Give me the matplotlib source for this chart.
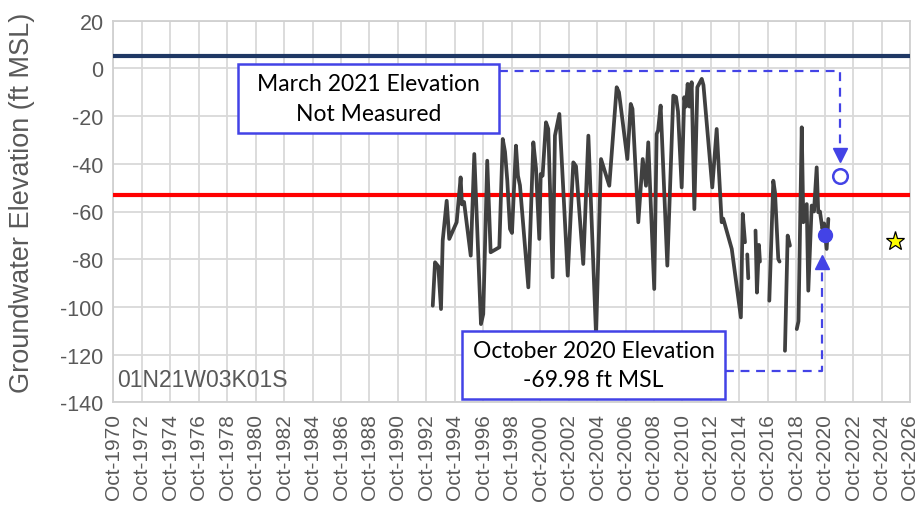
import numpy as np
import matplotlib
matplotlib.use("Agg")
import matplotlib.pyplot as plt
from matplotlib.patches import Rectangle

# ---------------- data ----------------
nan = np.nan
years = [1993.20, 1993.36, 1993.59, 1993.78, 1993.90, 1994.18, 1994.36, 1994.88,
         1995.16, 1995.25, 1995.40, 1995.87, 1996.12, 1996.59, 1996.75, 1997.03,
         1997.27, 1997.88, 1998.12, 1998.28, 1998.44, 1998.63, 1998.77, 1999.05,
         1999.19, 1999.33, 1999.92, 2000.27, 2000.46, 2000.69, 2000.79, 2000.92,
         2001.16, 2001.32, 2001.63, 2001.79, 2002.10, 2002.69, 2003.08, 2003.27,
         2003.78, 2004.14, 2004.68, 2005.03, 2005.61, 2006.13, 2006.29, 2006.88,
         2007.12, 2007.24, 2007.65, 2007.96, 2008.19, 2008.35, 2008.77, 2008.94,
         2009.04, 2009.22, 2009.69, 2010.11, 2010.30, 2010.44, 2010.70, 2010.88,
         2011.00, 2011.12, 2011.25, 2011.40, 2011.59, 2011.80, 2012.11, 2012.23,
         2012.85, 2013.16, 2013.51, 2013.62, 2014.22, 2014.86, 2014.99, 2015.15,
         nan, 2015.31, 2015.38,
         nan, 2015.89, 2015.99, 2016.13, 2016.20,
         nan, 2016.86, 2017.14, 2017.26, 2017.49, 2017.58,
         nan, 2017.96, 2018.15, 2018.31,
         nan, 2018.79, 2018.91, 2019.14, 2019.25, 2019.49, 2019.60, 2019.84,
         2020.00, 2020.19, 2020.30, 2020.42, 2020.59, 2020.71, 2020.89, 2021.01]
elev = [-99.5, -81.3, -83.0, -100.9, -72.2, -55.5, -71.5, -64.5,
        -45.7, -57.0, -56.0, -78.5, -35.9, -107.2, -103.0, -38.7,
        -77.1, -75.0, -29.6, -35.0, -47.0, -67.3, -69.0, -32.4,
        -45.0, -49.0, -91.8, -31.0, -42.0, -71.5, -44.3, -45.0,
        -22.6, -25.4, -87.6, -28.2, -19.1, -86.9, -39.4, -41.0,
        -82.0, -28.2, -112.0, -38.0, -49.2, -7.9, -10.0, -38.0,
        -14.9, -17.0, -64.5, -38.0, -49.2, -31.0, -92.5, -27.5,
        -26.0, -15.6, -82.7, -11.4, -12.0, -18.0, -49.9, -12.1,
        -16.0, -6.5, -16.0, -5.8, -59.0, -7.9, -4.4, -7.0,
        -49.9, -25.4, -64.5, -63.0, -75.7, -104.4, -61.0, -72.9,
        nan, -78.0, -88.0,
        nan, -68.0, -94.0, -74.0, -81.0,
        nan, -97.4, -47.1, -52.0, -79.9, -81.0,
        nan, -118.4, -70.1, -74.3,
        nan, -109.3, -106.0, -24.7, -64.5, -56.9, -93.2, -57.5,
        -60.0, -41.5, -60.3, -60.0, -67.3, -65.0, -75.7, -63.1]

ground_surface = 5.0
threshold = -53.0
oct2020_date, oct2020_value = 2020.75, -69.98
mar2021_date, mar2021_value = 2021.83, -45.0
star_date, star_value = 2025.69, -72.2
well_id = "01N21W03K01S"

tick_years = list(range(1970, 2027, 2))
tick_labels = [f"Oct-{y}" for y in tick_years]
yticks = list(range(-140, 21, 20))

# ---------------- figure ----------------
W, H = 919, 510
fig = plt.figure(figsize=(W / 100, H / 100), dpi=100)
ax = fig.add_axes([113.4 / W, 1 - 403.3 / H, (910 - 113.4) / W, (403.3 - 21.7) / H])

tick_pos = [y + 0.75 for y in tick_years]
ax.set_xlim(1970.75, 2026.75)
ax.set_ylim(-140, 20)
ax.set_xticks(tick_pos)
ax.set_xticklabels(tick_labels, rotation=90, fontsize=15, color="#595959",
                   family="Liberation Sans")
ax.set_yticks(yticks)
ax.set_yticklabels([str(v) for v in yticks], fontsize=15.5, color="#595959",
                   family="Liberation Sans")
ax.tick_params(axis="both", length=0)
ax.tick_params(axis="y", pad=7)
ax.tick_params(axis="x", pad=8)
ax.grid(True, color="#D9D9D9", linewidth=1.3)
ax.set_axisbelow(True)
for s in ax.spines.values():
    s.set_color("#D0D0D0")
    s.set_linewidth(1.3)

# reference lines
ax.axhline(ground_surface, color="#1F3864", linewidth=3.0, zorder=3)
ax.axhline(threshold, color="#FF0000", linewidth=3.0, zorder=3)

# data
ax.plot(years, elev, color="#404040", linewidth=2.7, zorder=4,
        solid_joinstyle="round", solid_capstyle="round")

blue = "#4343E6"
# annotations: dashed connectors
ax.plot([1997.88, mar2021_date, mar2021_date], [-1.0, -1.0, -33.5],
        color=blue, linewidth=1.6, dashes=(4, 3), zorder=5)
ax.plot([mar2021_date], [-36.5], marker="v", markersize=10, color=blue,
        linestyle="none", zorder=6)
ax.plot([mar2021_date], [mar2021_value], marker="o", markersize=10.5,
        markerfacecolor="white", markeredgecolor=blue, markeredgewidth=1.8,
        linestyle="none", zorder=6)

ax.plot([2013.74, 2020.59, 2020.59], [-126.8, -126.8, -83.5],
        color=blue, linewidth=1.6, dashes=(4, 3), zorder=5)
ax.plot([2020.59], [-81.0], marker="^", markersize=10, color=blue,
        linestyle="none", zorder=6)
ax.plot([oct2020_date], [oct2020_value], marker="o", markersize=10,
        color=blue, linestyle="none", zorder=6)

ax.plot([star_date], [star_value], marker="*", markersize=14,
        markerfacecolor="#FFFF00", markeredgecolor="black", markeredgewidth=0.9,
        linestyle="none", zorder=6)

# text boxes
box_font = "Lato"
ax.add_patch(Rectangle((1979.53, -27.1), 1997.88 - 1979.53, 1.85 + 27.1,
                       facecolor="white", edgecolor=blue, linewidth=1.8, zorder=7))
ax.text((1979.53 + 1997.88) / 2, -12.6, "March 2021 Elevation\nNot Measured",
        ha="center", va="center", fontsize=16.5, family=box_font,
        linespacing=1.5, color="black", zorder=8)

ax.add_patch(Rectangle((1995.26, -138.6), 2013.74 - 1995.26, 138.6 - 110.0,
                       facecolor="white", edgecolor=blue, linewidth=1.8, zorder=7))
ax.text((1995.26 + 2013.74) / 2, -124.3, "October 2020 Elevation\n-69.98 ft MSL",
        ha="center", va="center", fontsize=16.5, family=box_font,
        linespacing=1.5, color="black", zorder=8)

# well id
ax.text(1971.0, -130.5, well_id, ha="left", va="center", fontsize=16.5,
        color="#595959", family="Liberation Sans", zorder=8)

# y label
fig.text(22 / W, 1 - 203 / H, "Groundwater Elevation (ft MSL)", rotation=90,
         ha="center", va="center", fontsize=19.5, color="#595959",
         family="Liberation Sans")

fig.savefig("out.png", dpi=100)
